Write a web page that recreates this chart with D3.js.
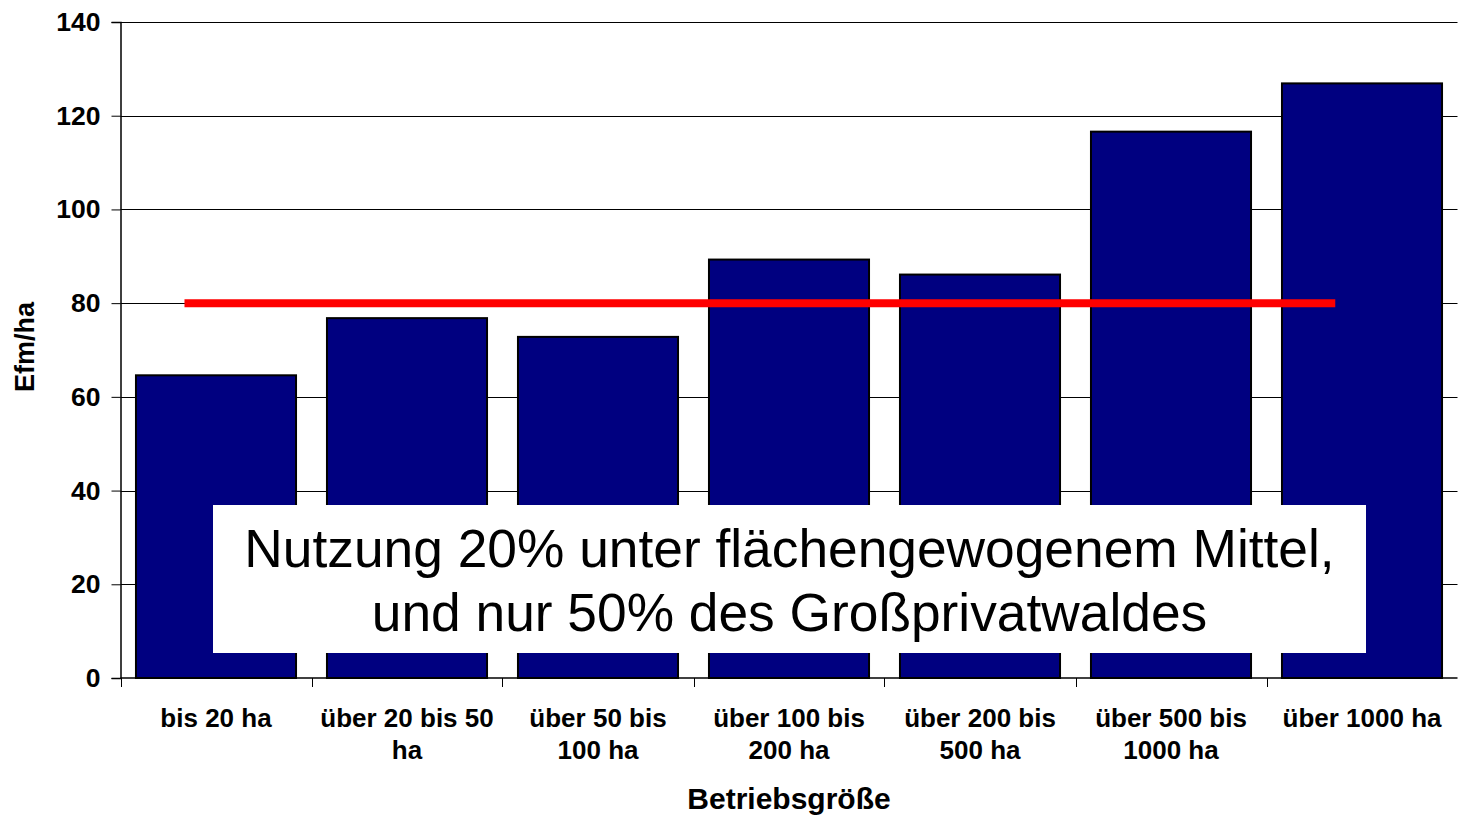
<!DOCTYPE html>
<html>
<head>
<meta charset="utf-8">
<script src="https://cdn.jsdelivr.net/npm/d3@7"></script>
<style>
  html, body { margin: 0; padding: 0; background: #fff; }
  svg { display: block; font-family: Arial, "Liberation Sans", sans-serif; }
</style>
</head>
<body>
<svg id="chart" width="1458" height="817"></svg>
<script>
// Einschlag je Hektar nach Betriebsgröße
const categories = ["bis 20 ha", "über 20 bis 50 ha", "über 50 bis 100 ha", "über 100 bis 200 ha",
                    "über 200 bis 500 ha", "über 500 bis 1000 ha", "über 1000 ha"];
const categoryLines = [["bis 20 ha"], ["über 20 bis 50", "ha"], ["über 50 bis", "100 ha"],
                       ["über 100 bis", "200 ha"], ["über 200 bis", "500 ha"],
                       ["über 500 bis", "1000 ha"], ["über 1000 ha"]];
const values = [64.6, 76.8, 72.8, 89.3, 86.1, 116.6, 126.9];
const yTicks = [0, 20, 40, 60, 80, 100, 120, 140];
const meanValue = 80;                 // flächengewogenes Mittel
const meanSpan = [0.335, 6.36];       // Ausdehnung der Mittelwertlinie in Kategorienbreiten
const yTitle = "Efm/ha";
const xTitle = "Betriebsgröße";
const noteLines = ["Nutzung 20% unter flächengewogenem Mittel,", "und nur 50% des Großprivatwaldes"];

const svg = d3.select("#chart");
const plotLeft = 120.5, plotRight = 1457.5, plotTop = 22, plotBottom = 678;

const x = d3.scaleBand().domain(categories).range([plotLeft, plotRight])
  .paddingInner(0.162).paddingOuter(0.081);
const xPos = d3.scaleLinear().domain([0, categories.length]).range([plotLeft, plotRight]);
const y = d3.scaleLinear().domain([0, 140]).range([plotBottom, plotTop]);

// Gitterlinien
svg.append("g").selectAll("line").data(yTicks.filter(d => d > 0)).join("line")
  .attr("x1", plotLeft).attr("x2", plotRight)
  .attr("y1", d => Math.round(y(d)) + 0.5).attr("y2", d => Math.round(y(d)) + 0.5)
  .attr("stroke", "#000").attr("stroke-width", 1);

// Balken
svg.append("g").selectAll("rect").data(values).join("rect")
  .attr("x", (d, i) => x(categories[i]))
  .attr("y", d => y(d))
  .attr("width", x.bandwidth())
  .attr("height", d => y(0) - y(d))
  .attr("fill", "#000080")
  .attr("stroke", "#000").attr("stroke-width", 2);

// Mittelwertlinie
svg.append("line")
  .attr("x1", xPos(meanSpan[0])).attr("x2", xPos(meanSpan[1]))
  .attr("y1", y(meanValue)).attr("y2", y(meanValue))
  .attr("stroke", "#ff0000").attr("stroke-width", 8);

// y-Achse
const yAxis = svg.append("g").attr("transform", `translate(${plotLeft},0)`)
  .call(d3.axisLeft(y).tickValues(yTicks).tickSize(9).tickPadding(11).tickFormat(d3.format("d")));
yAxis.select(".domain").attr("stroke", "#000").attr("stroke-width", 1.5);
yAxis.selectAll(".tick line").attr("stroke", "#000");
yAxis.selectAll(".tick text")
  .attr("font-size", 26.5).attr("font-weight", "bold").attr("fill", "#000")
  .attr("font-family", "Arial, 'Liberation Sans', sans-serif");

// x-Achse
const xAxisG = svg.append("g").attr("transform", `translate(0,${plotBottom})`);
xAxisG.append("line").attr("x1", plotLeft).attr("x2", plotRight)
  .attr("stroke", "#000").attr("stroke-width", 1.5);
xAxisG.selectAll("line.tk").data(d3.range(categories.length + 1)).join("line")
  .attr("class", "tk")
  .attr("x1", d => Math.round(xPos(d)) + 0.5).attr("x2", d => Math.round(xPos(d)) + 0.5)
  .attr("y1", 0).attr("y2", 9).attr("stroke", "#000");

const lbl = xAxisG.selectAll("text.cat").data(categoryLines).join("text")
  .attr("class", "cat")
  .attr("text-anchor", "middle")
  .attr("font-size", 26).attr("font-weight", "bold").attr("fill", "#000")
  .attr("transform", (d, i) => `translate(${x(categories[i]) + x.bandwidth() / 2},0)`);
lbl.selectAll("tspan").data(d => d).join("tspan")
  .attr("x", 0).attr("y", (d, j) => 48.5 + j * 32.5).text(d => d);

// Achsentitel
svg.append("text")
  .attr("transform", "translate(34,347) rotate(-90)")
  .attr("text-anchor", "middle")
  .attr("font-size", 27).attr("font-weight", "bold").text(yTitle);
svg.append("text")
  .attr("x", (plotLeft + plotRight) / 2).attr("y", 809)
  .attr("text-anchor", "middle")
  .attr("font-size", 30).attr("font-weight", "bold").text(xTitle);

// Textfeld
svg.append("rect").attr("x", 213).attr("y", 505).attr("width", 1153).attr("height", 148)
  .attr("fill", "#fff");
svg.append("text").attr("text-anchor", "middle").attr("font-size", 53.3).attr("fill", "#000")
  .selectAll("tspan").data(noteLines).join("tspan")
  .attr("x", 789.5).attr("y", (d, i) => 567 + i * 63.5).text(d => d);
</script>
</body>
</html>
